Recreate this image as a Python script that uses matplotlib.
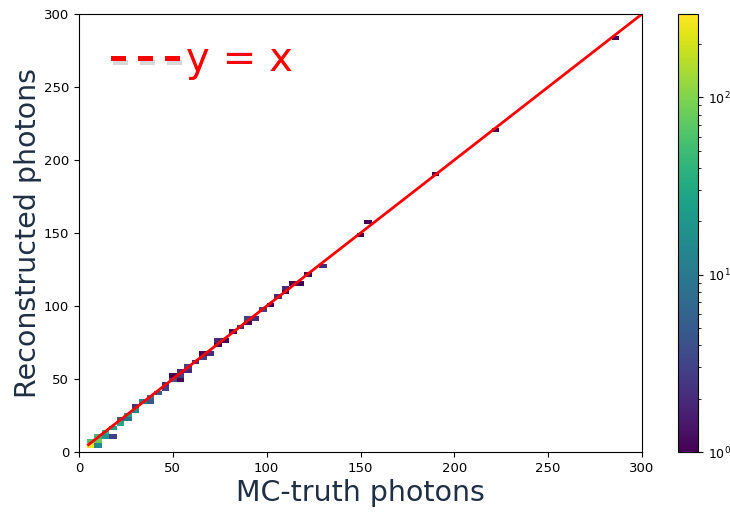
import numpy as np
import matplotlib.pyplot as plt
import matplotlib.patheffects as pe
from matplotlib.colors import LogNorm

# 2D histogram cells: bin centres (MC truth, reconstructed) and counts
mc_truth = [6, 6, 10, 10, 10, 14, 14, 16, 18, 22, 22, 26, 26, 30, 30, 34, 38, 38,
            42, 46, 46, 50, 50, 54, 54, 54, 58, 58, 62, 66, 66, 70, 74, 74, 78,
            82, 86, 90, 90, 94, 98, 102, 106, 110, 110, 114, 118, 122, 130, 150,
            154, 190, 222, 286]
reco = [4.5, 7.5, 7.5, 10.5, 4.5, 13.5, 10.5, 10.5, 16.5, 19.5, 22.5, 25.5, 22.5,
        28.5, 31.5, 34.5, 37.5, 34.5, 40.5, 46.5, 43.5, 49.5, 52.5, 52.5, 55.5,
        49.5, 58.5, 55.5, 61.5, 64.5, 67.5, 67.5, 76.5, 73.5, 76.5, 82.5, 85.5,
        88.5, 91.5, 91.5, 97.5, 100.5, 106.5, 109.5, 112.5, 115.5, 115.5, 121.5,
        127.5, 148.5, 157.5, 190.5, 220.5, 283.5]
counts = [295, 60, 80, 50, 15, 40, 20, 3, 25, 30, 5, 25, 8, 15, 2, 12, 8, 5,
          5, 2, 3, 4, 1, 3, 2, 1, 3, 2, 2, 3, 1, 2, 2, 1, 1,
          1, 2, 1, 3, 2, 3, 1, 2, 1, 2, 1, 1, 1,
          2, 1, 1, 1, 1, 1]

x_edges = np.arange(0, 304, 4)
y_edges = np.arange(0, 303, 3)

fig = plt.figure(figsize=(7.3, 5.12), dpi=100)
ax = fig.add_axes([79 / 730, 60 / 512, 563 / 730, 438 / 512])
cax = fig.add_axes([678 / 730, 60 / 512, 20 / 730, 438 / 512])

h = ax.hist2d(mc_truth, reco, bins=[x_edges, y_edges], weights=counts,
              cmin=1, norm=LogNorm(vmin=1, vmax=295), cmap='viridis')
fig.colorbar(h[3], cax=cax)

ax.plot([5, 300], [5, 300], color='red', linewidth=2)

ax.set_xlim(0, 300)
ax.set_ylim(0, 300)
ax.set_xticks(range(0, 301, 50))
ax.set_yticks(range(0, 301, 50))
ax.tick_params(labelsize=9.5)
cax.tick_params(labelsize=9)

label_color = '#1f3044'
ax.set_xlabel('MC-truth photons', fontsize=20.5, color=label_color)
ax.xaxis.set_label_coords(0.5, -0.062)
ax.set_ylabel('Reconstructed photons', fontsize=20.5, color=label_color)
ax.yaxis.set_label_coords(-0.066, 0.5)

ax.text(15.5, 270, '-\u200a-\u200a-', fontsize=42, color='red',
        va='center', ha='left',
        path_effects=[pe.withSimplePatchShadow(offset=(1.5, -3), shadow_rgbFace='gray',
                                               alpha=0.3)])
ax.text(57, 268.5, 'y = x', fontsize=29, color='red', va='center', ha='left')

fig.savefig('out.png', dpi=100)
